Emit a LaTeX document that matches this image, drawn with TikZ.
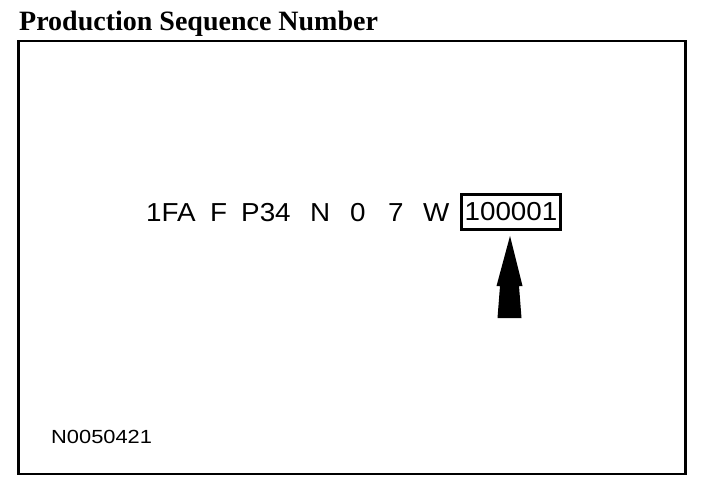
\documentclass[tikz,border=0pt]{standalone}
\usepackage{fontspec}
\setmainfont{Liberation Sans}
\newfontfamily\widefont[FakeStretch=1.07]{Liberation Sans}
\newfontfamily\codefont[FakeStretch=1.15]{Liberation Sans}
\newfontfamily\titlefont{Liberation Serif}
\begin{document}
\begin{tikzpicture}[x=1bp,y=-1bp,
  tok/.style={anchor=base west,inner sep=0pt,font=\widefont\fontsize{26bp}{28bp}\selectfont},
  seqbox/.style={draw,line width=2.2bp,inner sep=0pt,minimum width=99bp,minimum height=35bp,font=\widefont\fontsize{26bp}{28bp}\selectfont},
  frame/.style={draw,line width=2.7bp}]
\useasboundingbox (0,0) rectangle (704,482);
\node[anchor=base west,inner sep=0pt,font=\titlefont\bfseries\fontsize{28bp}{32bp}\selectfont] (title) at (19,31) {Production Sequence Number};
\draw[frame] (18.5,41) rectangle (685.5,474);
\node[tok] (t1) at (146,222) {1FA};
\node[tok] (t2) at (210,222) {F};
\node[tok] (t3) at (241,222) {P34};
\node[tok] (t4) at (310,222) {N};
\node[tok] (t5) at (350,222) {0};
\node[tok] (t6) at (388,222) {7};
\node[tok] (t7) at (423,222) {W};
\node[seqbox] (seq) at (511,212) {100001};
\coordinate (tip) at (510,236);
\fill (tip) -- (522.5,286) -- (519,286) -- (521.5,318) -- (497.5,318) -- (500,286) -- (496.5,286) -- cycle;
\node[anchor=base west,inner sep=0pt,font=\codefont\fontsize{19bp}{20bp}\selectfont] (code) at (51,443) {N0050421};
\end{tikzpicture}
\end{document}
